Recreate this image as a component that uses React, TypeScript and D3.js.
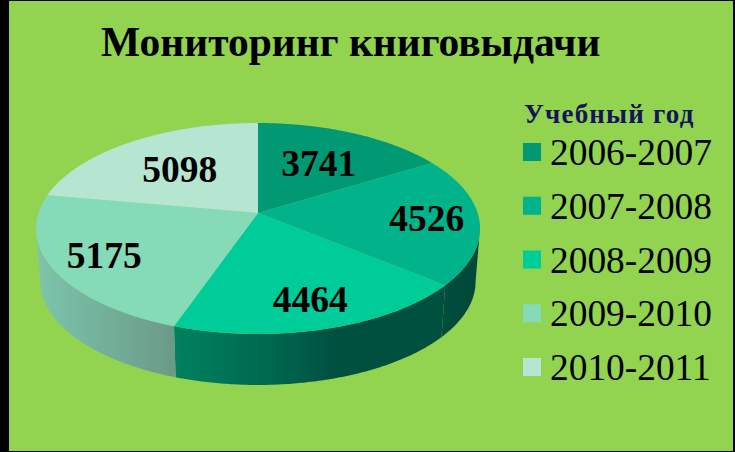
import React from 'react';
import * as d3 from 'd3';

const years = ['2006-2007', '2007-2008', '2008-2009', '2009-2010', '2010-2011'];
const values = [3741, 4526, 4464, 5175, 5098];
const colors = ['#009973', '#00b38a', '#00cc99', '#85dab7', '#b6e5d2'];

const width = 735;
const height = 452;

// tilted disc: perspective projection of the unit circle
const cx = 258;
const cy = 213;
const rx = 219.6;
const ry = 103.2;
const tilt = 0.147;
const depth = 53.4;
const bottomScale = 0.98;

const labelRadius = [0.6, 0.76, 0.77, 0.77, 0.6];

// wall is only visible between the two tangent angles
const wallStart = Math.acos(-tilt);
const wallEnd = 2 * Math.PI - wallStart;

const project = (a: number, r = 1, s = 1, dy = 0): [number, number] => {
  const u = Math.sin(a) * r;
  const v = -Math.cos(a) * r;
  const w = 1 - tilt * v;
  return [cx + (s * rx * u) / w, cy + dy + (s * ry * v) / w];
};

const arcAngles = (a0: number, a1: number) => {
  const n = Math.max(2, Math.ceil((a1 - a0) / 0.01));
  return d3.range(n + 1).map(i => a0 + ((a1 - a0) * i) / n);
};

const line = d3.line<[number, number]>();

const pie = d3.pie<number>().sort(null).startAngle(0).endAngle(2 * Math.PI);

const App: React.FC = () => {
  const slices = pie(values);

  const legendY = d3.scalePoint<string>().domain(years).range([152, 367]);

  return (
    <svg
      width={width}
      height={height}
      viewBox={`0 0 ${width} ${height}`}
      style={{ position: 'absolute', left: 0, top: 0, display: 'block' }}
    >
      <defs>
        <linearGradient id="wall1" gradientUnits="userSpaceOnUse" x1={440} x2={482} y1={0} y2={0}>
          <stop offset="0" stopColor="#004f3d" />
          <stop offset="1" stopColor="#00463a" />
        </linearGradient>
        <linearGradient id="wall2" gradientUnits="userSpaceOnUse" x1={175} x2={446} y1={0} y2={0}>
          <stop offset="0" stopColor="#00815f" />
          <stop offset="0.3" stopColor="#006c52" />
          <stop offset="0.6" stopColor="#005040" />
          <stop offset="1" stopColor="#00503e" />
        </linearGradient>
        <linearGradient id="wall3" gradientUnits="userSpaceOnUse" x1={36} x2={175} y1={0} y2={0}>
          <stop offset="0" stopColor="#7cc5ac" />
          <stop offset="1" stopColor="#6a9a88" />
        </linearGradient>
      </defs>

      <rect x={0} y={0} width={width} height={height} fill="#000" />
      <rect x={9} y={1} width={724} height={450} fill="#92d350" />

      <text
        x={101}
        y={56}
        fontFamily="'Liberation Serif', serif"
        fontWeight="bold"
        fontSize={41.5}
      >
        Мониторинг книговыдачи
      </text>

      {slices.map((d, i) => {
        const a0 = Math.max(d.startAngle, wallStart);
        const a1 = Math.min(d.endAngle, wallEnd);
        if (a1 <= a0) return null;
        const angles = arcAngles(a0, a1);
        const pts = [
          ...angles.map(a => project(a)),
          ...angles.slice().reverse().map(a => project(a, 1, bottomScale, depth)),
        ];
        return <path key={i} d={`${line(pts)}Z`} fill={`url(#wall${i})`} />;
      })}

      {slices.map((d, i) => {
        const pts = [[cx, cy] as [number, number], ...arcAngles(d.startAngle, d.endAngle).map(a => project(a))];
        return <path key={i} d={`${line(pts)}Z`} fill={colors[i]} />;
      })}

      {slices.map((d, i) => {
        const [x, y] = project((d.startAngle + d.endAngle) / 2, labelRadius[i]);
        return (
          <text
            key={i}
            x={x + 1}
            y={y + 13}
            textAnchor="middle"
            fontFamily="'Liberation Serif', serif"
            fontWeight="bold"
            fontSize={37.5}
          >
            {d.data}
          </text>
        );
      })}

      <text
        x={524}
        y={123}
        fontFamily="'Liberation Serif', serif"
        fontWeight="bold"
        fontSize={27}
        letterSpacing={1.2}
        fill="#14145a"
      >
        Учебный год
      </text>

      {years.map((year, i) => (
        <g key={year} transform={`translate(0,${legendY(year)})`}>
          <rect x={523} y={-9} width={18} height={18} fill={colors[i]} />
          <text x={550} y={13} fontFamily="'Liberation Serif', serif" fontSize={37.4}>
            {year}
          </text>
        </g>
      ))}
    </svg>
  );
};

export default App;
